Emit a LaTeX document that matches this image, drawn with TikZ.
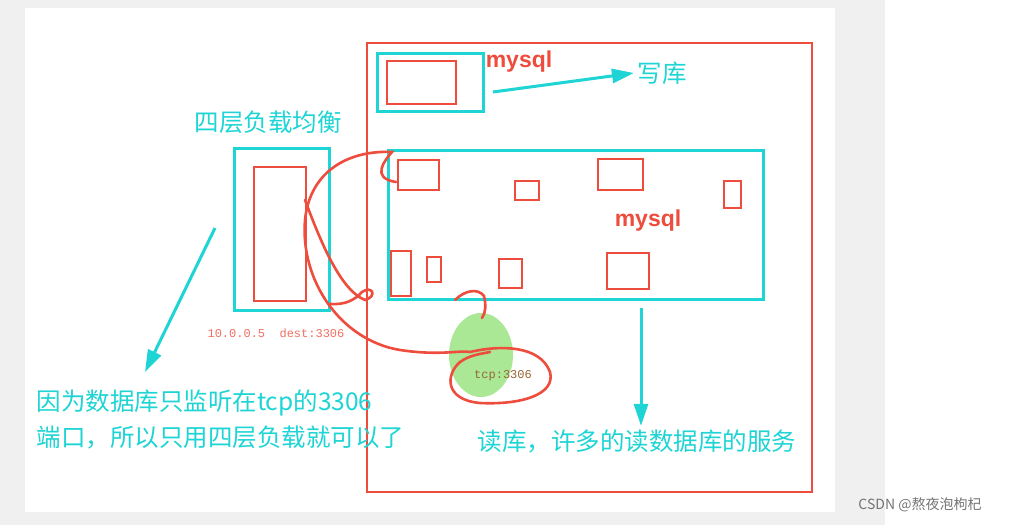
\documentclass[tikz,border=0pt]{standalone}
\usepackage{fontspec}
\setmainfont{Liberation Sans}
\setmonofont{Liberation Mono}
\newfontfamily\cjk{Noto Sans CJK SC}
\usetikzlibrary{arrows.meta}
\definecolor{cyanline}{RGB}{30,212,212}
\definecolor{redline}{RGB}{238,76,60}
\definecolor{tcpgreen}{RGB}{170,232,150}
\tikzset{
  box/.style={draw=cyanline,line width=3pt},
  dbbox/.style={draw=redline,line width=2.4pt},
  hand/.style={draw=redline,line width=2.6pt,line cap=round},
  cyanarrow/.style={draw=cyanline,line width=3pt,-{Triangle[length=22pt,width=14pt]}},
  cntext/.style={text=cyanline,font=\cjk\fontsize{24.5}{26}\selectfont},
  dbtext/.style={text=redline,font=\bfseries\fontsize{23}{25}\selectfont}
}
\begin{document}
\begin{tikzpicture}[x=1pt,y=-1pt]
    \useasboundingbox (0,0) rectangle (1020,525);
    % page
    \fill[black!6] (0,0) rectangle (885,525);
    \fill[white] (25,8) rectangle (835,512);

    %outer frame
    \draw[redline,line width=2.4pt] (367,43) rectangle (812,492);

    %write db
    \draw[box] (377,53) rectangle (483,111);
    \draw[dbbox] (387,61) rectangle (456,104);
    \node[dbtext] (mysqlw) at (519,62) {mysql};
    \node[cntext] (write) at (662,73) {写库};
    \coordinate (wstart) at (493,92);
    \draw[cyanarrow] (wstart) -- (write.west);

    %layer 4 balancer
    \node[cntext] (lvs) at (268,122) {四层负载均衡};
    \draw[box] (234,148) rectangle (329,310);
    \draw[dbbox] (254,167) rectangle (306,301);
    \node[text=redline!80,font=\ttfamily\fontsize{12}{13}\selectfont] (ip) at (276,333) {10.0.0.5\ \ dest:3306};

    %read dbs
    \draw[box] (388,150) rectangle (763,299);
    \draw[dbbox] (398,160) rectangle (439,190);
    \draw[dbbox] (515,181) rectangle (539,200);
    \draw[dbbox] (598,159) rectangle (643,190);
    \draw[dbbox] (724,181) rectangle (741,208);
    \draw[dbbox] (391,251) rectangle (411,296);
    \draw[dbbox] (427,257) rectangle (441,282);
    \draw[dbbox] (499,259) rectangle (522,288);
    \draw[dbbox] (607,253) rectangle (649,289);
    \node[dbtext] (mysqlr) at (648,221) {mysql};

    %tcp port
    \fill[tcpgreen] (481,355) ellipse (32 and 42);
    \node[text=brown!80!black,font=\ttfamily\fontsize{12}{13}\selectfont] (tcp) at (503,376) {tcp:3306};

    %hand drawn links
    \draw[hand] (396,182) .. controls (370,178) and (385,160) .. (392,152)
        .. controls (350,150) and (310,170) .. (305,220)
        .. controls (300,280) and (340,340) .. (400,350)
        .. controls (440,356) and (460,350) .. (470,352);
    \draw[hand] (305,200) .. controls (320,240) and (340,290) .. (365,300)
        .. controls (378,296) and (372,285) .. (362,292)
        .. controls (355,300) and (345,305) .. (330,304);
    \draw[hand] (455,300) .. controls (465,290) and (478,288) .. (484,296)
        .. controls (486,305) and (486,312) .. (482,318);
    \draw[hand] (470,352) .. controls (500,345) and (540,345) .. (550,372)
        .. controls (556,395) and (520,405) .. (480,403)
        .. controls (445,400) and (445,375) .. (460,362)
        .. controls (470,355) and (480,354) .. (490,352);

    %notes
    \coordinate (lstart) at (215,228);
    \coordinate (lend) at (145,372);
    \draw[cyanarrow] (lstart) -- (lend);
    \node[cntext,anchor=west] (note1) at (33,403) {因为数据库只监听在tcp的3306};
    \node[cntext,anchor=west] (note2) at (33,437) {端口，所以只用四层负载就可以了};
    \coordinate (rstart) at (641,308);
    \node[cntext] (read) at (637,441) {读库，许多的读数据库的服务};
    \draw[cyanarrow] (rstart) -- (read.north -| rstart);

    \node[text=black!55,font=\cjk\fontsize{14}{15}\selectfont] (mark) at (920,505) {CSDN @熬夜泡枸杞};
\end{tikzpicture}
\end{document}
